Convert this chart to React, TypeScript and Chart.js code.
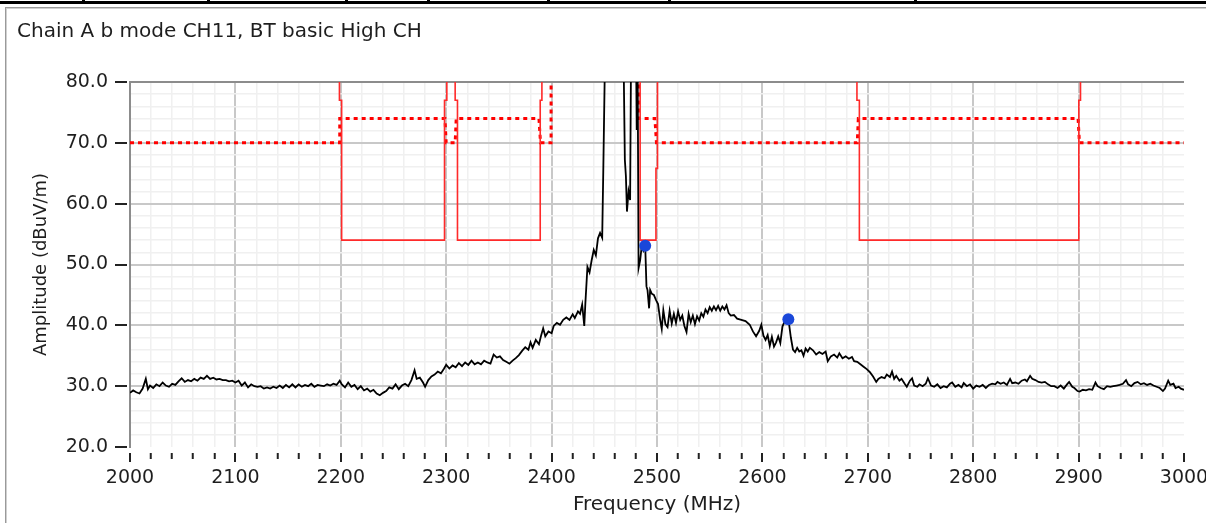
import React, { useEffect, useRef } from 'react';
import { Chart, registerables } from 'chart.js';

Chart.register(...registerables);

const TITLE = 'Chain A b mode CH11, BT basic High CH';
const X_TITLE = 'Frequency (MHz)';
const Y_TITLE = 'Amplitude (dBuV/m)';
const X_MIN = 2000;
const X_MAX = 3000;
const Y_MIN = 20;
const Y_MAX = 80;
const X_STEP = 20;
const Y_STEP = 2;

// Measured trace (MHz / dBuV/m); values above 80 are off the top of the plot
const TRACE_FREQ = [
  2000, 2003, 2006, 2009, 2012, 2015, 2017, 2019, 2022, 2025,
  2028, 2031, 2034, 2037, 2040, 2043, 2046, 2049, 2052, 2055,
  2058, 2061, 2064, 2067, 2070, 2073, 2076, 2079, 2082, 2085,
  2088, 2091, 2094, 2097, 2100, 2103, 2106, 2109, 2112, 2115,
  2118, 2121, 2124, 2127, 2130, 2133, 2136, 2139, 2142, 2145,
  2148, 2151, 2154, 2157, 2160, 2163, 2166, 2169, 2172, 2175,
  2178, 2181, 2184, 2187, 2190, 2193, 2196, 2199, 2201, 2204,
  2207, 2210, 2213, 2216, 2219, 2222, 2225, 2228, 2231, 2234,
  2237, 2240, 2243, 2246, 2249, 2252, 2255, 2258, 2261, 2264,
  2267, 2270, 2272, 2275, 2278, 2280, 2283, 2286, 2289, 2292,
  2295, 2298, 2300, 2303, 2306, 2309, 2312, 2315, 2318, 2321,
  2324, 2327, 2330, 2333, 2336, 2339, 2342, 2345, 2348, 2351,
  2354, 2357, 2360, 2363, 2366, 2369, 2372, 2375, 2378, 2380,
  2382, 2385, 2388, 2390, 2392, 2394, 2397, 2400, 2402, 2405,
  2408, 2411, 2414, 2417, 2420, 2422, 2425, 2427, 2429, 2431,
  2432, 2434, 2436, 2438, 2440, 2442, 2444, 2446, 2448, 2449,
  2451, 2468, 2469.5, 2470.5, 2471.5, 2473, 2474.5, 2475.5, 2480, 2480.8,
  2481.5, 2482.5, 2484, 2485.5, 2487, 2488.8, 2490, 2491, 2492.5, 2493.5,
  2495, 2497, 2499, 2501, 2503, 2504.5, 2506, 2508, 2510, 2512,
  2514, 2516, 2518, 2520, 2522, 2524, 2526, 2528, 2530, 2532,
  2534, 2536, 2538, 2540, 2542, 2544, 2546, 2548, 2550, 2552,
  2554, 2556, 2558, 2560, 2562, 2564, 2566, 2568, 2570, 2573,
  2576, 2580, 2584, 2588, 2591, 2594, 2597, 2599, 2601, 2603,
  2605, 2607, 2609, 2611, 2613, 2615, 2617, 2619, 2621, 2623,
  2625, 2627, 2629, 2631, 2633, 2635, 2637, 2639, 2641, 2643,
  2645, 2648, 2651, 2654, 2657, 2660, 2662, 2665, 2668, 2671,
  2673, 2676, 2679, 2682, 2685, 2687, 2690, 2693, 2696, 2699,
  2702, 2705, 2708, 2710, 2713, 2716, 2718, 2721, 2723, 2725,
  2727, 2730, 2732, 2735, 2737, 2740, 2742, 2744, 2747, 2749,
  2752, 2755, 2757, 2760, 2763, 2766, 2769, 2772, 2775, 2778,
  2780, 2783, 2786, 2789, 2791, 2794, 2797, 2800, 2803, 2806,
  2809, 2812, 2815, 2818, 2821, 2823, 2826, 2829, 2832, 2835,
  2837, 2840, 2843, 2846, 2849, 2851, 2854, 2856, 2859, 2862,
  2865, 2868, 2871, 2874, 2877, 2880, 2883, 2886, 2889, 2891,
  2894, 2896, 2899, 2901, 2904, 2907, 2910, 2913, 2916, 2918,
  2921, 2924, 2927, 2930, 2933, 2936, 2939, 2942, 2945, 2947,
  2950, 2953, 2956, 2959, 2962, 2965, 2968, 2971, 2974, 2977,
  2980, 2982, 2985, 2987, 2990, 2992, 2995, 2997, 3000,
];
const TRACE_AMP = [
  28.9, 29.3, 29.0, 28.8, 29.6, 31.2, 29.5, 30.1, 29.7, 30.3,
  30.0, 30.6, 30.1, 29.9, 30.4, 30.2, 30.8, 31.3, 30.7, 31.0,
  30.8, 31.2, 30.9, 31.4, 31.2, 31.7, 31.2, 31.4, 31.1, 31.2,
  31.0, 31.0, 30.8, 30.9, 30.6, 30.9, 30.1, 30.6, 29.8, 30.3,
  30.0, 29.9, 30.0, 29.6, 29.8, 29.6, 29.9, 29.7, 30.1, 29.7,
  30.2, 29.8, 30.3, 29.8, 30.3, 29.9, 30.2, 30.0, 30.4, 29.9,
  30.2, 30.1, 30.0, 30.3, 30.1, 30.4, 30.2, 30.9, 30.3, 29.8,
  30.6, 29.9, 30.2, 29.5, 30.0, 29.3, 29.6, 29.1, 29.4, 28.8,
  28.5, 28.9, 29.2, 29.8, 29.6, 30.3, 29.5, 30.1, 30.4, 30.0,
  31.0, 32.6, 31.2, 31.4, 30.6, 29.9, 31.0, 31.6, 31.9, 32.4,
  32.1, 32.9, 33.5, 32.9, 33.4, 33.1, 33.8, 33.3, 33.9, 33.5,
  34.2, 33.6, 33.9, 33.6, 34.2, 33.9, 33.7, 35.2, 34.7, 34.9,
  34.3, 34.0, 33.7, 34.2, 34.6, 35.1, 35.8, 36.4, 36.0, 37.2,
  36.3, 37.6, 36.9, 38.3, 39.5, 38.2, 39.0, 38.7, 39.9, 40.4,
  40.1, 40.9, 41.3, 40.9, 41.8, 41.2, 42.3, 41.9, 43.4, 39.9,
  43.5, 49.6, 48.7, 50.7, 52.4, 51.5, 54.3, 55.2, 54.4, 65.0,
  88, 88, 67.2, 64.5, 58.7, 62.0, 60.6, 88, 88, 72.1,
  88, 49.4, 50.7, 53.0, 52.3, 53.2, 46.4, 45.8, 42.8, 45.8,
  45.2, 45.0, 44.2, 43.5, 40.9, 39.4, 42.5, 40.2, 39.7, 42.4,
  40.3, 41.9, 40.4, 42.3, 40.9, 41.6, 39.9, 38.9, 41.9, 40.5,
  41.6, 40.2, 41.5, 40.8, 42.0, 41.4, 42.6, 42.0, 43.0, 42.4,
  43.1, 42.5, 43.2, 42.4, 43.1, 42.6, 43.3, 42.0, 41.6, 41.7,
  41.1, 40.9, 40.7, 40.1, 39.0, 38.2, 39.1, 40.1, 38.3, 37.6,
  38.4, 36.6, 38.1, 36.5, 37.2, 38.2, 37.1, 39.8, 40.6, 41.1,
  40.6, 38.0, 36.0, 35.6, 36.3, 35.7, 35.9, 35.0, 36.2, 35.7,
  36.3, 35.9, 35.2, 35.6, 35.3, 35.7, 34.1, 34.9, 35.2, 34.7,
  35.4, 34.6, 34.9, 34.5, 34.8, 34.1, 34.0, 33.6, 33.2, 32.8,
  32.3, 31.6, 30.7, 31.2, 31.5, 31.3, 31.9, 31.5, 32.4, 31.2,
  31.7, 30.9, 31.2, 30.4, 29.9, 30.9, 31.3, 30.1, 29.9, 30.3,
  30.0, 30.4, 31.3, 30.1, 29.9, 30.3, 29.7, 30.0, 29.8, 30.4,
  30.6, 29.9, 30.2, 29.8, 30.5, 30.0, 30.3, 29.6, 30.1, 29.9,
  30.2, 29.7, 30.2, 30.4, 30.3, 30.7, 30.4, 30.6, 30.2, 31.2,
  30.5, 30.6, 30.4, 30.9, 31.1, 30.8, 31.7, 31.2, 31.0, 30.7,
  30.6, 30.7, 30.3, 30.0, 30.0, 29.7, 30.1, 29.6, 30.3, 30.7,
  29.9, 29.7, 29.2, 29.1, 29.4, 29.3, 29.5, 29.4, 30.6, 30.0,
  29.7, 29.5, 30.0, 29.9, 30.0, 30.1, 30.2, 30.4, 31.0, 30.3,
  30.0, 30.5, 30.7, 30.3, 30.5, 30.2, 30.4, 30.1, 29.9, 29.7,
  29.2, 29.6, 30.9, 30.2, 30.4, 29.7, 29.9, 29.6, 29.4,
];

// Solid limit line (54 dBuV/m average limit in restricted bands)
const LIMIT_SOLID_FREQ = [
  2000, 2198.7, 2198.7, 2200.8, 2200.8, 2298.4, 2298.4, 2300.6, 2300.6, 2308.5,
  2308.5, 2310.7, 2310.7, 2389.2, 2389.2, 2390.8, 2390.8, 2484, 2484, 2499,
  2499, 2500.5, 2500.5, 2689.7, 2689.7, 2692, 2692, 2900.2, 2900.2, 2901.8,
  2901.8, 3000,
];
const LIMIT_SOLID_AMP = [
  95, 95, 77, 77, 54, 54, 77, 77, 95, 95,
  77, 77, 54, 54, 77, 77, 95, 95, 54, 54,
  65.8, 65.8, 95, 95, 77, 77, 54, 54, 77, 77,
  95, 95,
];

// Dotted limit line (74 dBuV/m peak in restricted bands, 70 elsewhere)
const LIMIT_DOTTED_FREQ = [
  2000, 2199, 2199, 2298.8, 2300, 2308.5, 2309.5, 2388, 2389.5, 2399.5,
  2399.5, 2482.5, 2482.5, 2498, 2499.5, 2690, 2691, 2899.5, 2900.8, 3000,
];
const LIMIT_DOTTED_AMP = [
  70, 70, 74, 74, 70, 70, 74, 74, 70, 70,
  95, 95, 74, 74, 70, 70, 74, 74, 70, 70,
];

const MARKER_FREQ = [2488.8, 2624.6];
const MARKER_AMP = [53.1, 41.0];

const TOP_STUBS = [83, 208, 346, 428, 548, 669, 915];

const TRANSPARENT = 'rgba(0,0,0,0)';
const TEXT_COLOR = '#1e1e1e';

const framePlugin = {
  id: 'framePlugin',
  beforeDraw(chart: any) {
    const { ctx, width, height } = chart;
    ctx.save();
    ctx.fillStyle = '#ffffff';
    ctx.fillRect(0, 0, width, height);
    ctx.fillStyle = '#000000';
    ctx.fillRect(0, 1, width, 3);
    for (const x of TOP_STUBS) ctx.fillRect(x - 1, 0, 3, 2);
    ctx.fillStyle = '#9a9a9a';
    ctx.fillRect(5, 7, width - 5, 1);
    ctx.fillRect(5, 7, 1, height - 7);
    ctx.fillStyle = '#d0d0d0';
    ctx.fillRect(6, 8, width - 6, 1);
    ctx.fillRect(6, 8, 1, height - 8);
    ctx.fillStyle = TEXT_COLOR;
    ctx.font = '20px "DejaVu Sans"';
    ctx.textAlign = 'left';
    ctx.textBaseline = 'alphabetic';
    ctx.fillText(TITLE, 17, 36.5);
    ctx.restore();
  },
};

const tickVal = (c: any) => (c && c.tick ? Math.round(c.tick.value) : NaN);

export default function App() {
  const ref = useRef<HTMLCanvasElement>(null);

  useEffect(() => {
    if (!ref.current) return;
    Chart.defaults.font.family = '"DejaVu Sans", sans-serif';

    const trace = TRACE_FREQ.map((x, i) => ({ x, y: TRACE_AMP[i] }));
    const solid = LIMIT_SOLID_FREQ.map((x, i) => ({ x, y: LIMIT_SOLID_AMP[i] }));
    const dotted = LIMIT_DOTTED_FREQ.map((x, i) => ({ x, y: LIMIT_DOTTED_AMP[i] }));
    const markers = MARKER_FREQ.map((x, i) => ({ x, y: MARKER_AMP[i] }));

    const chart = new Chart(ref.current, {
      type: 'line',
      data: {
        datasets: [
          {
            label: 'Markers',
            data: markers,
            showLine: false,
            pointRadius: 6,
            pointBackgroundColor: '#1a47d9',
            pointBorderColor: '#1a47d9',
            pointBorderWidth: 0,
          },
          {
            label: 'Trace',
            data: trace,
            borderColor: '#000000',
            borderWidth: 1.8,
            pointRadius: 0,
            tension: 0,
          },
          {
            label: 'Limit',
            data: solid,
            borderColor: '#ff2a2a',
            borderWidth: 1.6,
            pointRadius: 0,
            tension: 0,
          },
          {
            label: 'Limit peak',
            data: dotted,
            borderColor: '#ff0000',
            borderWidth: 3,
            borderDash: [4, 4],
            pointRadius: 0,
            tension: 0,
          },
        ],
      },
      options: {
        animation: false,
        responsive: false,
        devicePixelRatio: 1,
        events: [],
        layout: { padding: { left: 0, top: 82, right: 22, bottom: 0 } },
        plugins: {
          legend: { display: false },
          tooltip: { enabled: false },
          title: { display: false },
        },
        scales: {
          x: {
            type: 'linear',
            min: X_MIN,
            max: X_MAX,
            afterFit: (s: any) => {
              s.height = 76;
              s.paddingLeft = 0;
              s.paddingRight = 0;
            },
            border: { display: false },
            grid: {
              color: (c: any) => {
                const v = tickVal(c);
                if (v === X_MAX || v === X_MIN) return TRANSPARENT;
                return v % 100 === 0 ? '#c8c8c8' : '#f0f0f0';
              },
              lineWidth: (c: any) => (tickVal(c) % 100 === 0 ? 2 : 1.5),
              tickColor: '#222222',
              tickWidth: 2,
              tickLength: 16,
              tickBorderDash: (c: any) => (tickVal(c) % 100 === 0 ? [0, 6, 9, 100] : [0, 6, 6, 100]),
            },
            ticks: {
              stepSize: X_STEP,
              autoSkip: false,
              maxRotation: 0,
              minRotation: 0,
              padding: 4,
              color: TEXT_COLOR,
              font: { size: 19 },
              callback: (v: any) => (Math.round(v) % 100 === 0 ? String(Math.round(v)) : ''),
            },
            title: {
              display: true,
              text: X_TITLE,
              color: TEXT_COLOR,
              font: { size: 20 },
              padding: { top: 0, bottom: 6 },
            },
          },
          y: {
            type: 'linear',
            min: Y_MIN,
            max: Y_MAX,
            afterFit: (s: any) => {
              s.width = 130;
              s.paddingTop = 0;
              s.paddingBottom = 0;
            },
            border: { display: true, color: '#8c8c8c', width: 2 },
            grid: {
              color: (c: any) => {
                const v = tickVal(c);
                if (v === Y_MAX) return '#8c8c8c';
                if (v === Y_MIN) return TRANSPARENT;
                return v % 10 === 0 ? '#c8c8c8' : '#f0f0f0';
              },
              lineWidth: (c: any) => (tickVal(c) % 10 === 0 ? 2 : 1.5),
              tickColor: (c: any) => (tickVal(c) % 10 === 0 ? '#222222' : TRANSPARENT),
              tickWidth: 2,
              tickLength: 15,
              tickBorderDash: [12, 100],
            },
            ticks: {
              stepSize: Y_STEP,
              autoSkip: false,
              padding: 7,
              color: TEXT_COLOR,
              font: { size: 19 },
              callback: (v: any) => (Math.round(v) % 10 === 0 ? Number(v).toFixed(1) : ''),
            },
            title: {
              display: true,
              text: Y_TITLE,
              color: TEXT_COLOR,
              font: { size: 18 },
              padding: { top: 31, bottom: 0 },
            },
          },
        },
      },
      plugins: [framePlugin],
    } as any);

    return () => chart.destroy();
  }, []);

  return (
    <div style={{ position: 'absolute', left: 0, top: 0, width: 1206, height: 523, background: '#ffffff' }}>
      <canvas ref={ref} width={1206} height={523} style={{ display: 'block', width: 1206, height: 523 }} />
    </div>
  );
}
